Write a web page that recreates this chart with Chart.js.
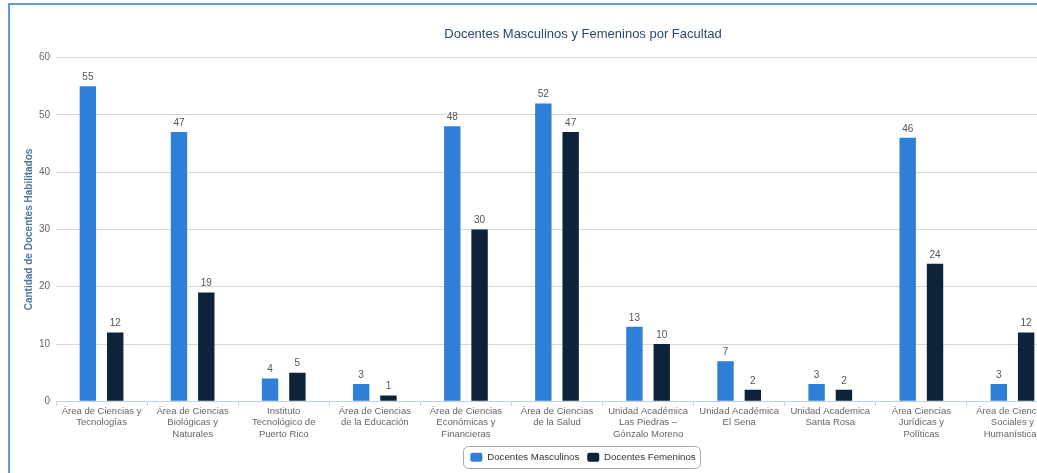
<!DOCTYPE html>
<html>
<head>
<meta charset="utf-8">
<script src="https://cdn.jsdelivr.net/npm/chart.js@4.4.1/dist/chart.umd.min.js"></script>
<style>
html,body{margin:0;padding:0;background:#fff;overflow:hidden;width:1037px;height:473px;}
#frame{position:absolute;left:8px;top:3px;width:2000px;height:2000px;border:2px solid #5f9bd8;box-sizing:border-box;}
#c{position:absolute;left:0;top:0;}
</style>
</head>
<body>
<div id="frame"></div>
<canvas id="c" width="1166" height="473"></canvas>
<script>
const categories = [
  ["Área de Ciencias y", "Tecnologías"],
  ["Área de Ciencias", "Biológicas y", "Naturales"],
  ["Instituto", "Tecnológico de", "Puerto Rico"],
  ["Área de Ciencias", "de la Educación"],
  ["Área de Ciencias", "Económicas y", "Financieras"],
  ["Área de Ciencias", "de la Salud"],
  ["Unidad Académica", "Las Piedras –", "Gónzalo Moreno"],
  ["Unidad Académica", "El Sena"],
  ["Unidad Academica", "Santa Rosa"],
  ["Área Ciencias", "Jurídicas y", "Políticas"],
  ["Área de Ciencias", "Sociales y", "Humanísticas"]
];
const docentesMasculinos = [55, 47, 4, 3, 48, 52, 13, 7, 3, 46, 3];
const docentesFemeninos = [12, 19, 5, 1, 30, 47, 10, 2, 2, 24, 12];
const yTicks = [0, 10, 20, 30, 40, 50, 60];

const FONT = "'Liberation Sans', Arial, sans-serif";
const CENTER_SHIFT = 54;

const shiftHeader = {
  id: 'shiftHeader',
  afterLayout(chart) {
    [chart.titleBlock, chart.legend].forEach(b => {
      if (b) { b.left += CENTER_SHIFT; b.right += CENTER_SHIFT; }
    });
  }
};

const dataLabels = {
  id: 'dataLabels',
  afterDatasetsDraw(chart) {
    const ctx = chart.ctx;
    ctx.save();
    ctx.font = '10px ' + FONT;
    ctx.fillStyle = '#555';
    ctx.textAlign = 'center';
    ctx.textBaseline = 'middle';
    chart.data.datasets.forEach((ds, i) => {
      chart.getDatasetMeta(i).data.forEach((bar, j) => {
        ctx.fillText(String(ds.data[j]), bar.x, bar.y - 9);
      });
    });
    ctx.restore();
  }
};

const legendBox = {
  id: 'legendBox',
  afterDraw(chart) {
    const hb = chart.legend.legendHitBoxes;
    if (!hb || !hb.length) return;
    let l = Infinity, r = -Infinity, t = Infinity, b = -Infinity;
    hb.forEach(h => { l = Math.min(l, h.left); r = Math.max(r, h.left + h.width); t = Math.min(t, h.top); b = Math.max(b, h.top + h.height); });
    const ctx = chart.ctx;
    ctx.save();
    ctx.strokeStyle = '#a8a8a8';
    ctx.lineWidth = 1;
    ctx.beginPath();
    const cy = (t + b) / 2;
    ctx.roundRect(Math.round(l - 7) + 0.5, Math.round(cy - 11) + 0.5, Math.round(r - l + 12), 22, 5);
    ctx.stroke();
    ctx.restore();
  }
};

new Chart(document.getElementById('c'), {
  type: 'bar',
  data: {
    labels: categories,
    datasets: [
      { label: 'Docentes Masculinos', data: docentesMasculinos, backgroundColor: '#2f7ed8', categoryPercentage: 0.6, barPercentage: 0.6 },
      { label: 'Docentes Femeninos', data: docentesFemeninos, backgroundColor: '#0d233a', categoryPercentage: 0.6, barPercentage: 0.6 }
    ]
  },
  options: {
    responsive: false,
    animation: false,
    layout: { padding: { left: 0, right: 108, top: 0, bottom: 1 } },
    plugins: {
      title: {
        display: true,
        text: 'Docentes Masculinos y Femeninos por Facultad',
        color: '#274b6d',
        font: { family: FONT, size: 13, weight: 'normal' },
        padding: { top: 27, bottom: 15 }
      },
      legend: {
        position: 'bottom',
        labels: {
          color: '#333',
          font: { family: FONT, size: 9.7 },
          boxWidth: 12, boxHeight: 9,
          useBorderRadius: true, borderRadius: 2,
          padding: 8
        }
      },
      tooltip: { enabled: false }
    },
    scales: {
      x: {
        grid: { display: true, offset: true, drawOnChartArea: false, drawTicks: true, tickLength: 4, color: '#c0d0e0' },
        border: { display: true, color: '#c0d0e0' },
        ticks: { color: '#666', font: { family: FONT, size: 9.5, lineHeight: 1.22 }, maxRotation: 0, autoSkip: false, padding: 0 },
        afterFit(scale) { scale.height = 43; }
      },
      y: {
        min: 0, max: 60,
        afterBuildTicks(scale) { scale.ticks = yTicks.map(v => ({ value: v })); },
        grid: { color: '#d8d8d8', drawTicks: false },
        border: { display: false },
        ticks: { color: '#666', font: { family: FONT, size: 10 }, padding: 6 },
        title: { display: true, text: 'Cantidad de Docentes Habilitados', color: '#4d759e', font: { family: FONT, size: 10, weight: 'bold' }, padding: { top: 23, bottom: 0 } },
        afterFit(scale) { scale.width = 56; }
      }
    }
  },
  plugins: [shiftHeader, dataLabels, legendBox]
});
</script>
</body>
</html>
